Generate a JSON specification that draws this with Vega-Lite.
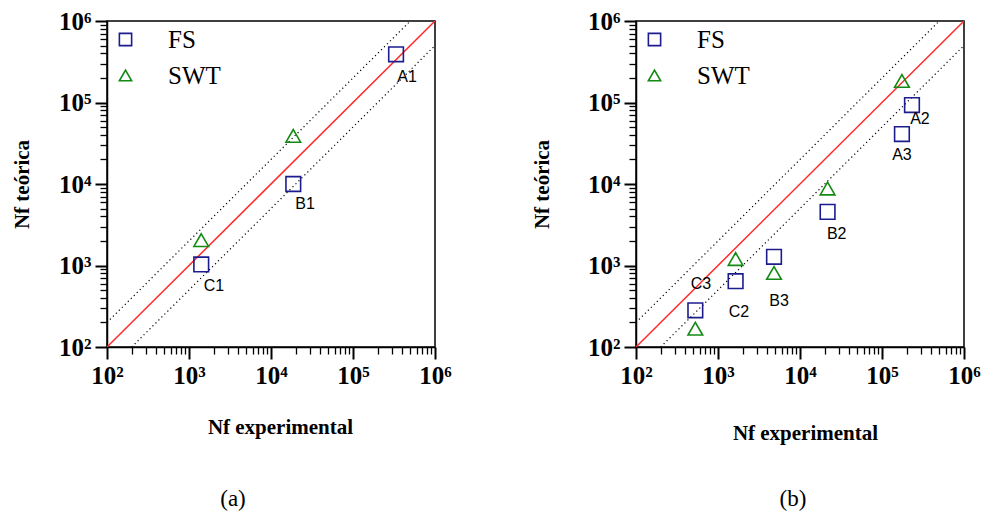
{
  "$schema": "https://vega.github.io/schema/vega-lite/v6.json",
  "background": "white",
  "padding": {"left": 10, "top": 8, "right": 2, "bottom": 2},
  "datasets": {
    "lines": [
      {"line": "1:1", "x": 100, "y": 100},
      {"line": "1:1", "x": 1000000, "y": 1000000},
      {"line": "2x", "x": 100, "y": 200},
      {"line": "2x", "x": 500000, "y": 1000000},
      {"line": "0.5x", "x": 200, "y": 100},
      {"line": "0.5x", "x": 1000000, "y": 500000}
    ],
    "pa": [
      {"series": "FS", "x": 335000, "y": 390000},
      {"series": "FS", "x": 18700, "y": 10000},
      {"series": "FS", "x": 1410, "y": 1030},
      {"series": "SWT", "x": 18700, "y": 39000},
      {"series": "SWT", "x": 1410, "y": 2050}
    ],
    "la": [
      {"label": "A1", "x": 457000, "y": 206000},
      {"label": "B1", "x": 26000, "y": 5660},
      {"label": "C1", "x": 2020, "y": 556}
    ],
    "pb": [
      {"series": "FS", "x": 232000, "y": 93000},
      {"series": "FS", "x": 175000, "y": 41000},
      {"series": "FS", "x": 21700, "y": 4550},
      {"series": "FS", "x": 4820, "y": 1280},
      {"series": "FS", "x": 1640, "y": 641},
      {"series": "FS", "x": 529, "y": 282},
      {"series": "SWT", "x": 175000, "y": 184000},
      {"series": "SWT", "x": 21700, "y": 8800},
      {"series": "SWT", "x": 4820, "y": 811},
      {"series": "SWT", "x": 1640, "y": 1200},
      {"series": "SWT", "x": 529, "y": 168}
    ],
    "lb": [
      {"label": "A2", "x": 290000, "y": 62700},
      {"label": "A3", "x": 175000, "y": 22600},
      {"label": "B2", "x": 28000, "y": 2430},
      {"label": "B3", "x": 5550, "y": 365},
      {"label": "C2", "x": 1800, "y": 269},
      {"label": "C3", "x": 621, "y": 594}
    ]
  },
  "hconcat": [
    {
      "width": 328,
      "height": 326,
      "title": {"text": "(a)", "orient": "bottom", "offset": 51, "dx": -38, "font": "Liberation Serif", "fontSize": 23, "fontWeight": "normal", "color": "black"},
      "encoding": {
        "x": {"field": "x", "type": "quantitative", "scale": {"type": "log", "domain": [100, 1000000], "nice": false},
          "axis": {"title": "Nf experimental", "titleX": 173, "titlePadding": 28,
            "values": [100,200,300,400,500,600,700,800,900,1000,2000,3000,4000,5000,6000,7000,8000,9000,10000,20000,30000,40000,50000,60000,70000,80000,90000,100000,200000,300000,400000,500000,600000,700000,800000,900000,1000000],
            "labelExpr": "datum.value == 100 ? '10²' : datum.value == 1000 ? '10³' : datum.value == 10000 ? '10⁴' : datum.value == 100000 ? '10⁵' : datum.value == 1000000 ? '10⁶' : ''"}},
        "y": {"field": "y", "type": "quantitative", "scale": {"type": "log", "domain": [100, 1000000], "nice": false},
          "axis": {"title": "Nf teórica", "titlePadding": 26,
            "values": [100,200,300,400,500,600,700,800,900,1000,2000,3000,4000,5000,6000,7000,8000,9000,10000,20000,30000,40000,50000,60000,70000,80000,90000,100000,200000,300000,400000,500000,600000,700000,800000,900000,1000000],
            "labelExpr": "datum.value == 100 ? '10²' : datum.value == 1000 ? '10³' : datum.value == 10000 ? '10⁴' : datum.value == 100000 ? '10⁵' : datum.value == 1000000 ? '10⁶' : ''"}}
      },
      "layer": [
        {"data": {"name": "lines"}, "transform": [{"filter": "datum.line == '1:1'"}],
          "mark": {"type": "line", "color": "#ff2a2a", "strokeWidth": 1.5, "clip": true},
          "encoding": {"detail": {"field": "line"}}},
        {"data": {"name": "lines"}, "transform": [{"filter": "datum.line != '1:1'"}],
          "mark": {"type": "line", "color": "black", "strokeWidth": 1.2, "strokeDash": [1.2, 3], "clip": true},
          "encoding": {"detail": {"field": "line"}}},
        {"data": {"name": "pa"},
          "mark": {"type": "point", "filled": false, "strokeWidth": 1.6, "size": 215, "opacity": 1},
          "encoding": {
            "color": {"field": "series", "type": "nominal", "scale": {"domain": ["FS", "SWT"], "range": ["#1c1c8e", "#138a13"]}, "legend": {"title": null, "orient": "top-left"}},
            "shape": {"field": "series", "type": "nominal", "scale": {"domain": ["FS", "SWT"], "range": ["square", "triangle-up"]}, "legend": {"title": null, "orient": "top-left"}}
          }},
        {"data": {"name": "la"},
          "mark": {"type": "text", "font": "Liberation Sans", "fontSize": 16, "color": "black", "align": "center", "baseline": "middle"},
          "encoding": {"text": {"field": "label"}}}
      ]
    },
    {
      "width": 328,
      "height": 326,
      "title": {"text": "(b)", "orient": "bottom", "offset": 45, "dx": -7, "font": "Liberation Serif", "fontSize": 23, "fontWeight": "normal", "color": "black"},
      "encoding": {
        "x": {"field": "x", "type": "quantitative", "scale": {"type": "log", "domain": [100, 1000000], "nice": false},
          "axis": {"title": "Nf experimental", "titleX": 169, "titlePadding": 34,
            "values": [100,200,300,400,500,600,700,800,900,1000,2000,3000,4000,5000,6000,7000,8000,9000,10000,20000,30000,40000,50000,60000,70000,80000,90000,100000,200000,300000,400000,500000,600000,700000,800000,900000,1000000],
            "labelExpr": "datum.value == 100 ? '10²' : datum.value == 1000 ? '10³' : datum.value == 10000 ? '10⁴' : datum.value == 100000 ? '10⁵' : datum.value == 1000000 ? '10⁶' : ''"}},
        "y": {"field": "y", "type": "quantitative", "scale": {"type": "log", "domain": [100, 1000000], "nice": false},
          "axis": {"title": "Nf teórica", "titlePadding": 35,
            "values": [100,200,300,400,500,600,700,800,900,1000,2000,3000,4000,5000,6000,7000,8000,9000,10000,20000,30000,40000,50000,60000,70000,80000,90000,100000,200000,300000,400000,500000,600000,700000,800000,900000,1000000],
            "labelExpr": "datum.value == 100 ? '10²' : datum.value == 1000 ? '10³' : datum.value == 10000 ? '10⁴' : datum.value == 100000 ? '10⁵' : datum.value == 1000000 ? '10⁶' : ''"}}
      },
      "layer": [
        {"data": {"name": "lines"}, "transform": [{"filter": "datum.line == '1:1'"}],
          "mark": {"type": "line", "color": "#ff2a2a", "strokeWidth": 1.5, "clip": true},
          "encoding": {"detail": {"field": "line"}}},
        {"data": {"name": "lines"}, "transform": [{"filter": "datum.line != '1:1'"}],
          "mark": {"type": "line", "color": "black", "strokeWidth": 1.2, "strokeDash": [1.2, 3], "clip": true},
          "encoding": {"detail": {"field": "line"}}},
        {"data": {"name": "pb"},
          "mark": {"type": "point", "filled": false, "strokeWidth": 1.6, "size": 215, "opacity": 1},
          "encoding": {
            "color": {"field": "series", "type": "nominal", "scale": {"domain": ["FS", "SWT"], "range": ["#1c1c8e", "#138a13"]}, "legend": {"title": null, "orient": "top-left"}},
            "shape": {"field": "series", "type": "nominal", "scale": {"domain": ["FS", "SWT"], "range": ["square", "triangle-up"]}, "legend": {"title": null, "orient": "top-left"}}
          }},
        {"data": {"name": "lb"},
          "mark": {"type": "text", "font": "Liberation Sans", "fontSize": 16, "color": "black", "align": "center", "baseline": "middle"},
          "encoding": {"text": {"field": "label"}}}
      ]
    }
  ],
  "spacing": 78,
  "resolve": {"scale": {"color": "independent", "shape": "independent"}, "legend": {"color": "independent", "shape": "independent"}},
  "config": {
    "view": {"stroke": "black", "strokeWidth": 1.5},
    "axis": {
      "grid": false,
      "domainColor": "black", "domainWidth": 1.5,
      "tickColor": "black",
      "tickSize": {"condition": {"test": "indexof([100,1000,10000,100000,1000000], datum.value) >= 0", "value": 12}, "value": 7},
      "tickWidth": {"condition": {"test": "indexof([100,1000,10000,100000,1000000], datum.value) >= 0", "value": 2}, "value": 1.3},
      "labelFont": "Liberation Serif", "labelFontWeight": "bold", "labelFontSize": 25, "labelColor": "black",
      "labelOverlap": false, "labelPadding": 4, "labelFlush": false,
      "titleFont": "Liberation Serif", "titleFontWeight": "bold", "titleFontSize": 21, "titleColor": "black"
    },
    "legend": {
      "labelFont": "Liberation Serif", "labelFontSize": 25, "labelColor": "black",
      "symbolSize": 150, "symbolStrokeWidth": 1.6, "symbolFillColor": "transparent",
      "labelOffset": 30, "rowPadding": 10, "offset": 6, "padding": 0
    }
  }
}
